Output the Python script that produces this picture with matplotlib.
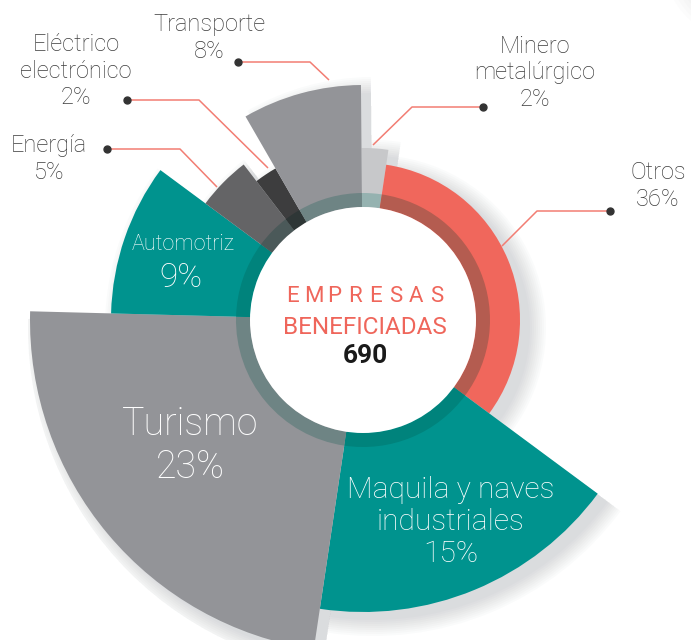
import numpy as np
import matplotlib.pyplot as plt
from matplotlib.colors import to_rgb

# datos
sectores = ['Minero\nmetalúrgico', 'Otros', 'Maquila y naves\nindustriales', 'Turismo',
            'Automotriz', 'Energía', 'Eléctrico\nelectrónico', 'Transporte']
porcentajes = [2, 36, 15, 23, 9, 5, 2, 8]
# apertura de cada sector tal como está dibujada (grados) y su largo (px)
apertura = [9, 118, 62, 83, 35, 16, 7.5, 29.5]
alcance = [172, 157, 292, 333, 252, 196, 175, 235]
colores = ['#c7c8ca', '#f0675c', '#00938e', '#939498',
           '#00938e', '#646466', '#3d3d3e', '#939498']
total_empresas = 690

W, H = 691, 640
cx, cy = 363, 320
R = 345
r_blanco, r_anillo = 113, 127

plt.rcParams['font.family'] = ['Roboto', 'DejaVu Sans']
fig = plt.figure(figsize=(W / 100, H / 100), dpi=100)


def eje_polar(dx=0, dy=0):
    ax = fig.add_axes([(cx + dx - R) / W, (H - cy - dy - R) / H, 2 * R / W, 2 * R / H],
                      projection='polar')
    ax.set_theta_zero_location('N')
    ax.set_theta_direction(-1)
    ax.set_ylim(0, R)
    ax.set_axis_off()
    return ax


anchos = np.deg2rad(apertura)
inicios = np.deg2rad(-0.5) + np.concatenate([[0], np.cumsum(anchos)[:-1]])

# sombra suave, corrida hacia abajo a la derecha
sombra = eje_polar(10, 8)
for e in range(0, 17, 2):
    sombra.bar(inicios, np.array(alcance) + e, width=anchos, bottom=0, align='edge',
               color='#7d808a', alpha=0.03, linewidth=0)

ax = eje_polar()
ax.bar(inicios, alcance, width=anchos, bottom=0, align='edge', color=colores, linewidth=0)

# anillo oscuro translúcido
tinte = np.array([0.75, 0.89, 0.87])
anillo = [tuple(np.array(to_rgb(c)) * tinte) for c in colores]
ax.bar(inicios, r_anillo - r_blanco, width=anchos, bottom=r_blanco, align='edge',
       color=anillo, linewidth=0)
ax.bar(0, r_blanco, width=2 * np.pi, bottom=0, color='white', linewidth=0)

# capa de textos en píxeles
ov = fig.add_axes([0, 0, 1, 1])
ov.set_xlim(0, W)
ov.set_ylim(H, 0)
ov.set_axis_off()

# sombra en la esquina superior derecha
for k in range(10):
    ov.add_patch(plt.Circle((742, -38), 78 - 4 * k, color='#8d9099', alpha=0.025,
                            linewidth=0))

gris_txt = '#3c3c3c'
linea = '#f27d73'
externos = {
    'Transporte': ((209, 38), [(238, 62), (310, 62), (329, 80)]),
    'Eléctrico\nelectrónico': ((76, 71), [(127, 100), (199, 100), (268, 168)]),
    'Energía': ((49, 159), [(107, 149), (180, 149), (217, 187)]),
    'Minero\nmetalúrgico': ((535, 73), [(483, 107), (412, 107), (373, 145)]),
    'Otros': ((658, 186), [(610, 211), (537, 211), (502, 246)]),
}
for nombre, (pos, pts) in externos.items():
    p = porcentajes[sectores.index(nombre)]
    ov.text(pos[0], pos[1], f'{nombre}\n{p}%', ha='center', va='center',
            fontsize=17, color=gris_txt, linespacing=1.22, fontweight='light')
    xs, ys = zip(*pts)
    ov.plot(xs, ys, color=linea, lw=1.1, solid_capstyle='butt')
    ov.plot(xs[0], ys[0], 'o', color='#333333', ms=5)

# textos internos
ov.text(183, 244, 'Automotriz', ha='center', va='center', fontsize=15.5,
        color='white', fontweight='light')
ov.text(181, 278, f'{porcentajes[4]}%', ha='center', va='center', fontsize=24,
        color='white', fontweight='light')
ov.text(190, 446, f'Turismo\n{porcentajes[3]}%', ha='center', va='center', fontsize=27,
        color='white', fontweight='light', linespacing=1.17)
ov.text(451, 522, f'Maquila y naves\nindustriales\n{porcentajes[2]}%', ha='center',
        va='center', fontsize=21.5, color='white', fontweight='light', linespacing=1.17)

# centro
rojo = '#ef665b'
letras = 'EMPRESAS'
for x, l in zip(np.linspace(293, 437, len(letras)), letras):
    ov.text(x, 297, l, ha='center', va='center', fontsize=16, color=rojo)
ov.text(365, 327, 'BENEFICIADAS', ha='center', va='center', fontsize=17.5, color=rojo)
ov.text(365, 356, f'{total_empresas}', ha='center', va='center', fontsize=19,
        color='#1a1a1a', fontweight='bold')

fig.savefig('out.png', dpi=100)
